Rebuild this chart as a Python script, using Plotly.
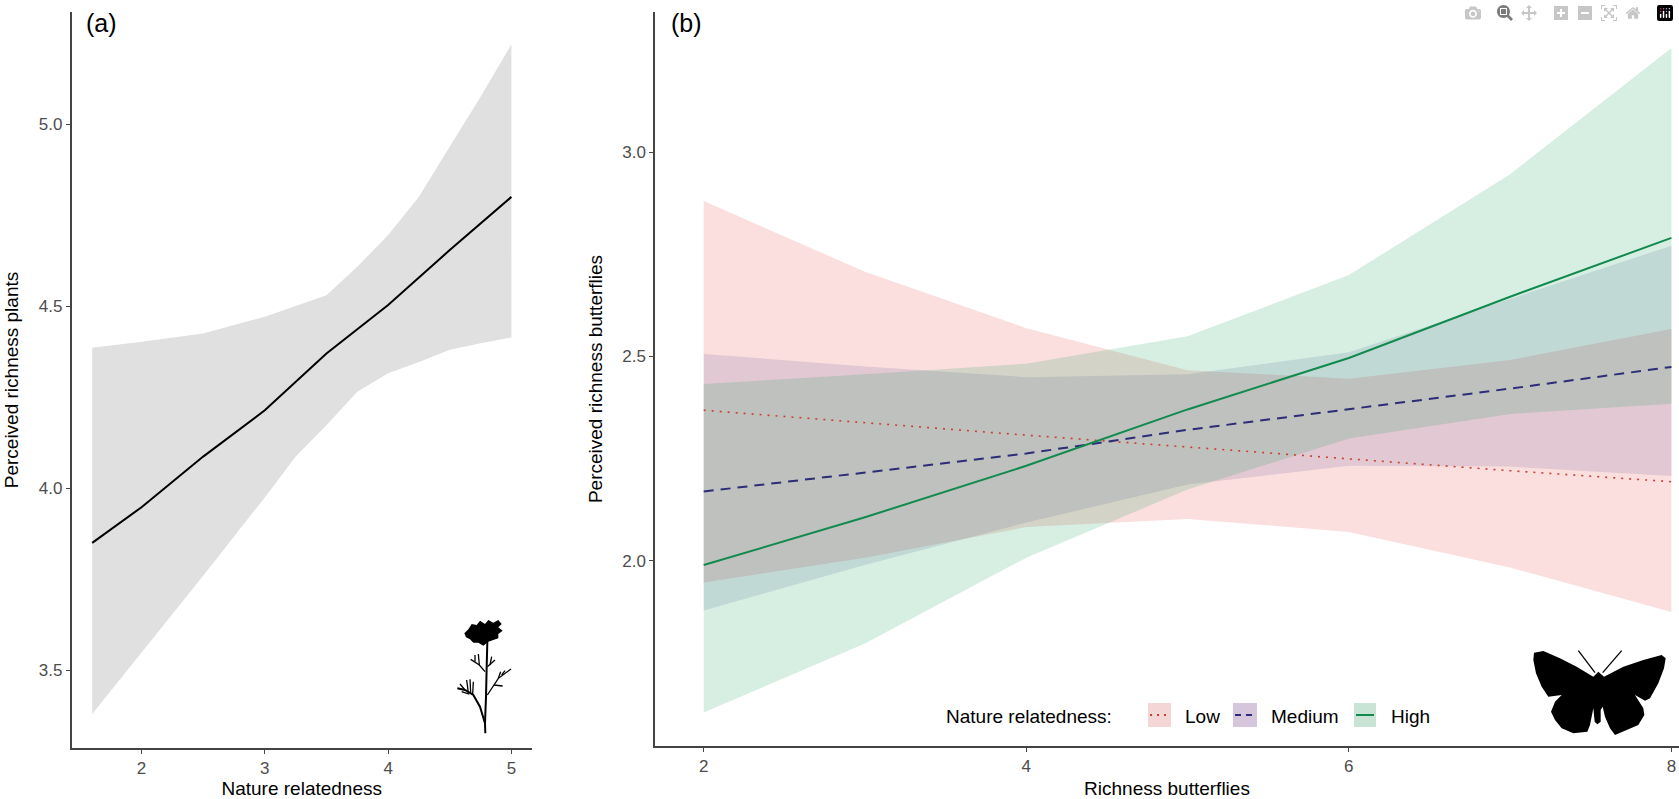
import plotly.graph_objects as go

W, H = 1679, 799

# ---------- panel (a) data ----------
a_line_x = [1.6, 2, 2.5, 3, 3.5, 4, 4.5, 5]
a_line_y = [3.85, 3.948, 4.087, 4.214, 4.37, 4.503, 4.654, 4.80]
a_upper_x = [1.6, 2, 2.5, 3, 3.5, 3.75, 4, 4.25, 4.5, 4.75, 5]
a_upper_y = [4.386, 4.402, 4.425, 4.471, 4.53, 4.608, 4.695, 4.80, 4.938, 5.075, 5.219]
a_lower_x = [1.6, 2, 2.5, 3, 3.25, 3.5, 3.75, 4, 4.25, 4.5, 4.75, 5]
a_lower_y = [3.38, 3.55, 3.76, 3.975, 4.087, 4.173, 4.265, 4.316, 4.347, 4.38, 4.398, 4.414]

# ---------- panel (b) data ----------
b_x = [2, 3, 4, 5, 6, 7, 8]
low_y = [2.368, 2.337, 2.307, 2.278, 2.249, 2.22, 2.193]
low_upper = [2.880, 2.707, 2.569, 2.466, 2.445, 2.491, 2.567]
low_lower = [1.946, 2.007, 2.082, 2.102, 2.07, 1.983, 1.874]
med_y = [2.169, 2.215, 2.262, 2.32, 2.37, 2.421, 2.474]
med_upper = [2.506, 2.475, 2.449, 2.456, 2.51, 2.641, 2.771]
med_lower = [1.878, 1.989, 2.093, 2.186, 2.232, 2.23, 2.207]
high_y = [1.989, 2.106, 2.232, 2.37, 2.496, 2.646, 2.79]
high_upper = [2.432, 2.456, 2.482, 2.549, 2.699, 2.946, 3.255]
high_lower = [1.628, 1.797, 2.007, 2.174, 2.299, 2.359, 2.384]

group_names = ["Low", "Medium", "High"]
LOW, MED, HIGH = "#c8402f", "#2c2c78", "#128a4f"
LOW_F, MED_F, HIGH_F = "rgba(230,50,50,0.16)", "rgba(40,40,120,0.12)", "rgba(20,160,90,0.17)"

FONT = "Liberation Sans"
TICK = "#4d4d4d"
AXIS = "#444444"


def px_x(p):
    return p / W


def px_y(p):
    return 1 - p / H


fig = go.Figure()


def band(x_up, up, x_lo, lo, color, name, xa, ya):
    fig.add_trace(go.Scatter(x=list(x_up) + list(x_lo)[::-1], y=list(up) + list(lo)[::-1],
                             fill="toself", fillcolor=color, mode="lines",
                             line=dict(width=0), hoverinfo="skip", showlegend=False,
                             name=name, xaxis=xa, yaxis=ya))


band(a_upper_x, a_upper_y, a_lower_x, a_lower_y, "#e0e0e0", "CI", "x", "y")
fig.add_trace(go.Scatter(x=a_line_x, y=a_line_y, mode="lines", line=dict(color="black", width=2),
                         showlegend=False, name="Fit", xaxis="x", yaxis="y"))

for n, u, l, f in zip(group_names, [low_upper, med_upper, high_upper],
                      [low_lower, med_lower, high_lower], [LOW_F, MED_F, HIGH_F]):
    band(b_x, u, b_x, l, f, n + " CI", "x2", "y2")

for n, v, c, d, w in zip(group_names, [low_y, med_y, high_y], [LOW, MED, HIGH],
                         ["2px,6px", "10px,7px", "solid"], [1.6, 2, 2]):
    fig.add_trace(go.Scatter(x=b_x, y=v, mode="lines", line=dict(color=c, width=w, dash=d),
                             showlegend=False, name=n, xaxis="x2", yaxis="y2"))


def axis(domain, rng, vals, text, title, anchor):
    return dict(domain=domain, range=rng, tickvals=vals, ticktext=text, showgrid=False, zeroline=False,
                showline=True, linecolor=AXIS, linewidth=1.5, ticks="outside", ticklen=4, tickwidth=1,
                tickcolor=AXIS, tickfont=dict(family=FONT, size=17, color=TICK),
                title=dict(text=title, font=dict(family=FONT, size=19, color="black")),
                anchor=anchor, automargin=False)


shapes = []


def path_shape(points, closed=True, width=0, close_color="black"):
    d = "M" + " L".join(f"{px_x(x):.5f},{px_y(y):.5f}" for x, y in points)
    if closed:
        d += " Z"
    return dict(type="path", xref="paper", yref="paper", path=d,
                fillcolor="black" if closed else None,
                line=dict(color=close_color, width=width), layer="above")


# butterfly silhouette (from a crop at 3x of region starting at 1510,630)
bf_body = [(265, 125), (282, 140), (340, 110), (400, 90), (455, 75), (467, 85), (462, 115), (445, 160), (420, 205),
           (405, 212), (375, 195), (400, 235), (403, 255), (385, 285), (350, 300), (315, 315), (300, 295), (285, 260),
           (278, 230), (272, 240), (272, 275), (262, 283), (254, 275), (250, 235), (240, 285), (232, 305), (190, 310),
           (155, 295), (135, 270), (123, 245), (135, 215), (155, 195), (115, 200), (95, 170), (78, 130), (70, 90),
           (72, 68), (100, 63), (150, 85), (200, 110), (250, 140)]
bf_lines = [[(255, 128), (205, 62)], [(278, 128), (335, 62)]]
to_bf = lambda pts: [(1510 + x / 3, 630 + y / 3) for x, y in pts]
shapes.append(path_shape(to_bf(bf_body)))
for ln in bf_lines:
    shapes.append(path_shape(to_bf(ln), closed=False, width=1.3))

# flower silhouette (from a crop at 3x of region starting at 430,600)
fl_head = [(103, 100), (115, 88), (125, 72), (140, 75), (150, 62), (165, 72), (175, 60), (190, 68), (205, 60),
           (215, 72), (205, 82), (218, 92), (205, 102), (205, 115), (190, 120), (175, 125), (160, 137), (145, 128),
           (130, 128), (120, 118), (108, 112)]
fl_lines = [[(172, 125), (170, 200), (168, 290), (165, 370), (166, 400)],
            [(165, 370), (150, 320), (130, 285), (105, 270), (82, 265)],
            [(105, 270), (90, 252)], [(115, 278), (110, 240)], [(122, 280), (120, 238)],
            [(128, 283), (130, 245)], [(118, 282), (95, 275)],
            [(165, 215), (148, 195), (122, 178)], [(148, 195), (145, 162)], [(135, 185), (135, 165)],
            [(172, 200), (195, 180)], [(180, 195), (185, 170)],
            [(172, 285), (205, 235), (243, 207)], [(205, 235), (212, 215)], [(192, 255), (218, 258)],
            [(215, 225), (225, 212)]]
to_fl = lambda pts: [(430 + x / 3, 600 + y / 3) for x, y in pts]
shapes.append(path_shape(to_fl(fl_head)))
for i, ln in enumerate(fl_lines):
    shapes.append(path_shape(to_fl(ln), closed=False, width=2 if i < 2 else 1.3))

# legend keys
key_boxes = [(1148, 1171), (1233, 1257), (1354, 1376)]
key_fill = ["#f5d6d6", "#d6c6db", "#c9e3d5"]
key_line = [LOW, MED, HIGH]
key_dash = ["2px,5px", "6px,5px", "solid"]
for (x0, x1), f, c, d in zip(key_boxes, key_fill, key_line, key_dash):
    shapes.append(dict(type="rect", xref="paper", yref="paper", x0=px_x(x0), x1=px_x(x1), y0=px_y(727), y1=px_y(703),
                       fillcolor=f, line=dict(width=0), layer="below"))
    shapes.append(dict(type="line", xref="paper", yref="paper", x0=px_x(x0 + 2), x1=px_x(x1 - 2), y0=px_y(715),
                       y1=px_y(715), line=dict(color=c, width=2, dash=d)))

annots = []


def label(text, x, y, size, anchor="left"):
    annots.append(dict(text=text, xref="paper", yref="paper", x=px_x(x), y=px_y(y), showarrow=False,
                       xanchor=anchor, yanchor="middle", font=dict(family=FONT, size=size, color="black")))


label("(a)", 84, 23, 25)
label("(b)", 669, 23, 25)
label("Nature relatedness:", 944, 716, 19)
label("Low", 1183, 716, 19)
label("Medium", 1269, 716, 19)
label("High", 1389, 716, 19)

fig.update_layout(
    width=W, height=H, autosize=False,
    margin=dict(l=0, r=0, t=0, b=0),
    paper_bgcolor="white", plot_bgcolor="white", showlegend=False,
    xaxis=axis([px_x(71.5), px_x(532)], [1.432, 5.167], [2, 3, 4, 5], ["2", "3", "4", "5"],
               "Nature relatedness", "y"),
    yaxis=axis([px_y(748), px_y(12)], [3.287, 5.3075], [3.5, 4, 4.5, 5], ["3.5", "4.0", "4.5", "5.0"],
               "Perceived richness plants", "x"),
    xaxis2=axis([px_x(655), 1.0], [1.698, 8.047], [2, 4, 6, 8], ["2", "4", "6", "8"],
                "Richness butterflies", "y2"),
    yaxis2=axis([px_y(746), px_y(12)], [1.546, 3.343], [2, 2.5, 3], ["2.0", "2.5", "3.0"],
                "Perceived richness butterflies", "x2"),
    shapes=shapes, annotations=annots,
)

fig.write_html("out.html", post_script="document.body.style.margin='0';")
